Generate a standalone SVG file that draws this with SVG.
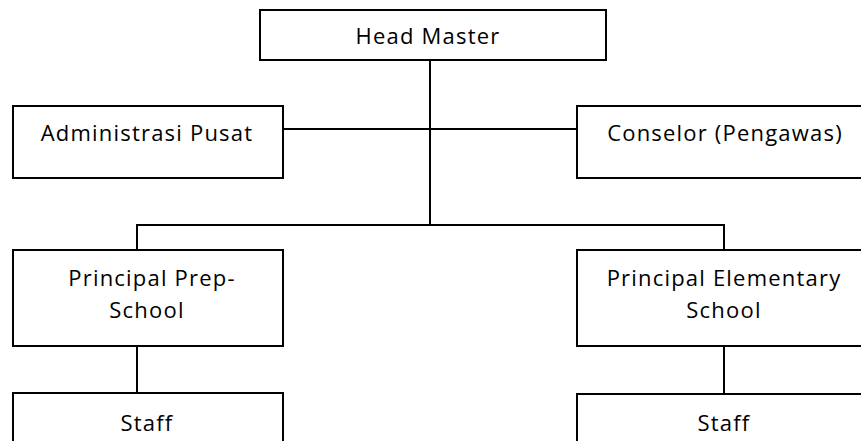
<svg xmlns="http://www.w3.org/2000/svg" width="861" height="441" viewBox="0 0 861 441">
<style>
rect{fill:#fff;stroke:#000;stroke-width:2}
.c line{stroke:#000;stroke-width:2}
text{font-family:"Open Sans","DejaVu Sans",sans-serif;font-size:22px;letter-spacing:1.2px;fill:#000;text-anchor:middle}
</style>
<rect x="0" y="0" width="861" height="441" style="stroke:none"/>
<g class="c">
<line x1="430" y1="60" x2="430" y2="226"/>
<line x1="283" y1="129" x2="577" y2="129"/>
<line x1="136" y1="225" x2="725" y2="225"/>
<line x1="137" y1="225" x2="137" y2="250"/>
<line x1="724" y1="225" x2="724" y2="250"/>
<line x1="137" y1="346" x2="137" y2="393"/>
<line x1="724" y1="346" x2="724" y2="394"/>
</g>
<g id="head"><rect x="260" y="10" width="346" height="50"/><text x="428" y="44">Head Master</text></g>
<g id="admin"><rect x="13" y="106" width="270" height="72"/><text x="147" y="141">Administrasi Pusat</text></g>
<g id="conselor"><rect x="577" y="106" width="294" height="72"/><text x="725" y="141">Conselor (Pengawas)</text></g>
<g id="prep"><rect x="13" y="250" width="270" height="96"/><text x="152" y="286">Principal Prep-</text><text x="147" y="318">School</text></g>
<g id="elem"><rect x="577" y="250" width="294" height="96"/><text x="724" y="286">Principal Elementary</text><text x="724" y="318">School</text></g>
<g id="staff1"><rect x="13" y="393" width="270" height="60"/><text x="147" y="431">Staff</text></g>
<g id="staff2"><rect x="577" y="394" width="294" height="60"/><text x="724" y="431">Staff</text></g>
</svg>
